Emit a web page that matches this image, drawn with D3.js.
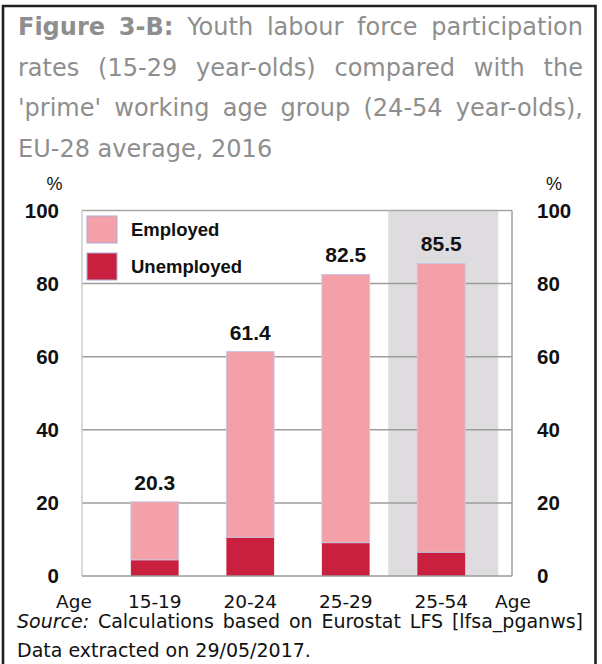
<!DOCTYPE html>
<html>
<head>
<meta charset="utf-8">
<script src="https://cdn.jsdelivr.net/npm/d3@7"></script>
<style>
  html, body { margin: 0; padding: 0; background: #fff; }
  svg { display: block; }
</style>
</head>
<body>
<svg id="chart" width="602" height="664"></svg>
<script>
// Age groups and participation rates (%), EU-28, 2016
const ageGroups = ["15-19", "20-24", "25-29", "25-54"];
const totalRate = [20.3, 61.4, 82.5, 85.5];
const unemployed = [4.4, 10.6, 9.1, 6.5];
const employed = totalRate.map((t, i) => +(t - unemployed[i]).toFixed(1));
const yTicks = [0, 20, 40, 60, 80, 100];
const seriesNames = ["Employed", "Unemployed"];
const highlightGroup = "25-54";

const titleLines = [
  [["Figure", "b"], ["3-B:", "b"], "Youth", "labour", "force", "participation"],
  ["rates", "(15-29", "year-olds)", "compared", "with", "the"],
  ["'prime'", "working", "age", "group", "(24-54", "year-olds),"],
  ["EU-28", "average,", "2016"]
];
const sourceLines = [
  [["Source:", "i"], "Calculations", "based", "on", "Eurostat", "LFS", "[lfsa_pganws]"],
  ["Data", "extracted", "on", "29/05/2017."]
];

const colors = { Employed: "#f4a0a8", Unemployed: "#c8203e" };

const svg = d3.select("#chart");

// outer frame
svg.append("path")
  .attr("d", "M3,664V6H595.5V664")
  .attr("fill", "none")
  .attr("stroke", "#231f20")
  .attr("stroke-width", 2.6);

// word-by-word text lines, justified between x0 and x1 unless last
function textLine(words, x0, x1, baseline, opts) {
  const g = svg.append("g");
  const nodes = words.map(w => {
    const word = Array.isArray(w) ? w[0] : w;
    const style = Array.isArray(w) ? w[1] : "";
    return g.append("text")
      .attr("y", baseline)
      .attr("font-family", "DejaVu Sans, Verdana, sans-serif")
      .attr("font-size", opts.size)
      .attr("fill", opts.color)
      .attr("font-weight", style === "b" ? "bold" : "normal")
      .attr("font-style", style === "i" ? "italic" : "normal")
      .text(word);
  });
  const widths = nodes.map(n => n.node().getComputedTextLength());
  const sum = d3.sum(widths);
  const gap = opts.justify ? (x1 - x0 - sum) / (nodes.length - 1) : opts.size * 0.318;
  let x = x0;
  nodes.forEach((n, i) => { n.attr("x", x); x += widths[i] + gap; });
}

titleLines.forEach((line, i) => {
  textLine(line, 18, 583, 35 + i * 40.6,
    { size: 24, color: "#8e8e8e", justify: i < titleLines.length - 1 });
});
sourceLines.forEach((line, i) => {
  textLine(line, 17, 583, 628 + i * 29,
    { size: 19, color: "#111", justify: i === 0 });
});

// plot area
const plot = { left: 82, right: 512, top: 210.5, bottom: 576 };

const x = d3.scaleBand()
  .domain(ageGroups)
  .range([107, 489])
  .paddingInner(0.5)
  .paddingOuter(0.25);

const y = d3.scaleLinear()
  .domain([0, 100])
  .range([plot.bottom, plot.top]);

// shaded band behind the prime-age group
const hc = x(highlightGroup) + x.bandwidth() / 2;
svg.append("rect")
  .attr("x", hc - 53)
  .attr("y", plot.top)
  .attr("width", 110)
  .attr("height", plot.bottom - plot.top)
  .attr("fill", "#dedcdf");

// gridlines
svg.append("g")
  .selectAll("line")
  .data(yTicks.filter(t => t > 0 && t < 100))
  .join("line")
  .attr("x1", plot.left).attr("x2", plot.right)
  .attr("y1", d => y(d)).attr("y2", d => y(d))
  .attr("stroke", "#9d9d9d")
  .attr("stroke-width", 1.5);

// plot frame
svg.append("line").attr("x1", plot.left).attr("x2", plot.right)
  .attr("y1", plot.top).attr("y2", plot.top)
  .attr("stroke", "#a8a8a8").attr("stroke-width", 1.5);
svg.append("line").attr("x1", plot.left).attr("x2", plot.left)
  .attr("y1", plot.top).attr("y2", plot.bottom)
  .attr("stroke", "#cccccc").attr("stroke-width", 1.5);
svg.append("line").attr("x1", plot.right).attr("x2", plot.right)
  .attr("y1", plot.top).attr("y2", plot.bottom)
  .attr("stroke", "#a0a0a0").attr("stroke-width", 1.5);

// stacked bars
const rows = ageGroups.map((g, i) => ({ group: g, Unemployed: unemployed[i], Employed: employed[i], total: totalRate[i] }));
const stack = d3.stack().keys(["Unemployed", "Employed"])(rows);

svg.append("g")
  .selectAll("g")
  .data(stack)
  .join("g")
  .attr("fill", d => colors[d.key])
  .attr("stroke", d => d.key === "Employed" ? "#c9c6e4" : "none")
  .attr("stroke-width", 1)
  .selectAll("rect")
  .data(d => d)
  .join("rect")
  .attr("x", d => x(d.data.group))
  .attr("y", d => y(d[1]))
  .attr("width", x.bandwidth())
  .attr("height", d => y(d[0]) - y(d[1]));

// zero line
svg.append("line").attr("x1", plot.left).attr("x2", plot.right)
  .attr("y1", plot.bottom).attr("y2", plot.bottom)
  .attr("stroke", "#9a9a9a").attr("stroke-width", 1.5);

// value labels
svg.append("g")
  .selectAll("text")
  .data(rows)
  .join("text")
  .attr("x", d => x(d.group) + x.bandwidth() / 2)
  .attr("y", d => y(d.total) - 12)
  .attr("text-anchor", "middle")
  .attr("font-family", "Liberation Sans, Arial, sans-serif")
  .attr("font-weight", "bold")
  .attr("font-size", 21)
  .attr("fill", "#111")
  .text(d => d.total.toFixed(1));

// y axes, left and right
function styleAxis(g) {
  g.select(".domain").remove();
  g.selectAll("line").remove();
  g.selectAll("text")
    .attr("font-family", "Liberation Sans, Arial, sans-serif")
    .attr("font-weight", "bold")
    .attr("font-size", 20.5)
    .attr("fill", "#111");
}
svg.append("g")
  .attr("transform", `translate(${plot.left},0)`)
  .call(d3.axisLeft(y).tickValues(yTicks).tickSize(0).tickPadding(23).tickFormat(d3.format("d")))
  .call(styleAxis);
svg.append("g")
  .attr("transform", `translate(${plot.right},0)`)
  .call(d3.axisRight(y).tickValues(yTicks).tickSize(0).tickPadding(25).tickFormat(d3.format("d")))
  .call(styleAxis);

// unit labels
[54.5, 554].forEach(cx => {
  svg.append("text")
    .attr("x", cx).attr("y", 189.5)
    .attr("text-anchor", "middle")
    .attr("font-family", "Liberation Sans, Arial, sans-serif")
    .attr("font-size", 18)
    .attr("fill", "#111")
    .text("%");
});

// category axis
const xAxis = svg.append("g")
  .attr("transform", `translate(0,${plot.bottom})`)
  .call(d3.axisBottom(x).tickSize(0).tickPadding(0));
xAxis.select(".domain").remove();
xAxis.selectAll("text")
  .attr("dy", null)
  .attr("y", 31.5)
  .attr("font-family", "DejaVu Sans, Verdana, sans-serif")
  .attr("font-size", 18.5)
  .attr("fill", "#111");
[74, 513].forEach(cx => {
  svg.append("text")
    .attr("x", cx).attr("y", plot.bottom + 31.5)
    .attr("text-anchor", "middle")
    .attr("font-family", "DejaVu Sans, Verdana, sans-serif")
    .attr("font-size", 18.5)
    .attr("fill", "#111")
    .text("Age");
});

// legend
const legend = svg.append("g").attr("transform", "translate(87,216)");
seriesNames.forEach((name, i) => {
  const row = legend.append("g").attr("transform", `translate(0,${i * 37})`);
  row.append("rect")
    .attr("width", 30).attr("height", 27)
    .attr("fill", colors[name])
    .attr("stroke", "#a9acd6").attr("stroke-width", 1);
  row.append("text")
    .attr("x", 44).attr("y", 20)
    .attr("font-family", "Liberation Sans, Arial, sans-serif")
    .attr("font-weight", "bold")
    .attr("font-size", 18.5)
    .attr("fill", "#111")
    .text(name);
});
</script>
</body>
</html>
